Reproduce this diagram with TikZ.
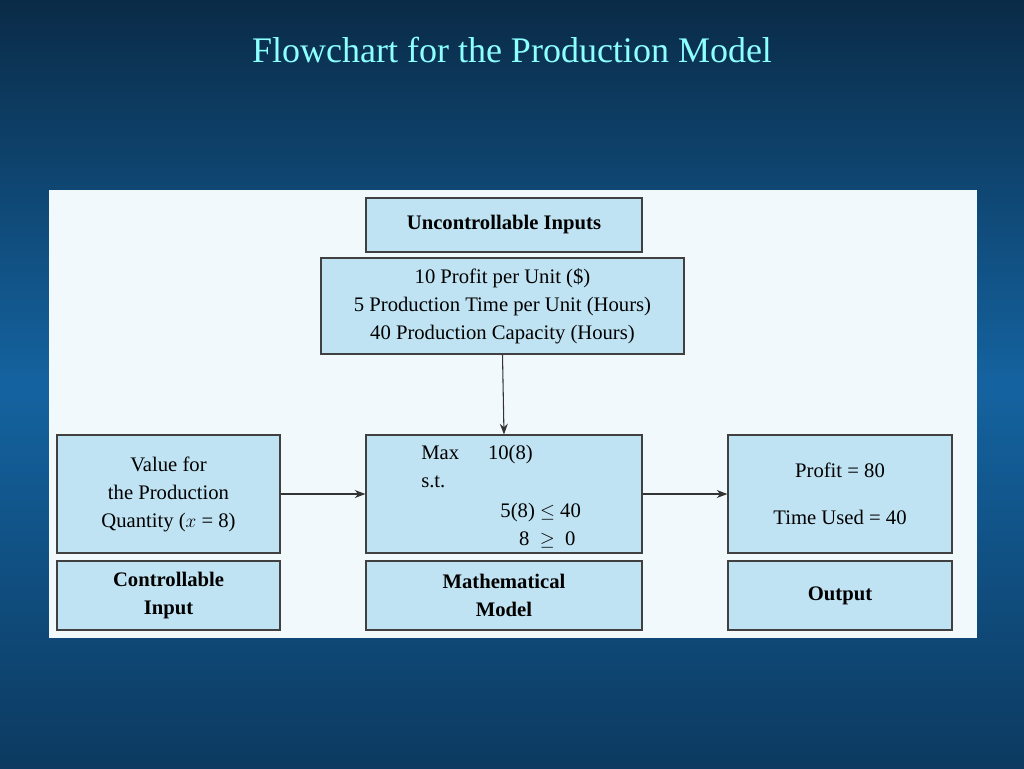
\documentclass[tikz,border=0pt]{standalone}
\usepackage{fontspec}
\setmainfont{Liberation Serif}
\newfontfamily\titlefont{TeX Gyre Heros}
\usetikzlibrary{arrows.meta}
\definecolor{bgtop}{HTML}{0A2B47}
\definecolor{bgmid}{HTML}{1463A0}
\definecolor{bgbot}{HTML}{0C3A60}
\definecolor{panel}{HTML}{F2F9FC}
\definecolor{boxfill}{HTML}{BFE3F3}
\definecolor{titlecol}{HTML}{8CFFFF}
\tikzset{
  box/.style={draw=black!75, line width=0.9pt, fill=boxfill, align=center,
    inner sep=0pt, font=\fontsize{15.5}{21}\selectfont},
  boldbox/.style={box, font=\fontsize{15.5}{21}\selectfont\bfseries},
  flow/.style={-{Stealth[length=8pt,width=6pt]}, line width=0.8pt, black!80}
}
\begin{document}
\begin{tikzpicture}[x=0.75pt,y=-0.75pt]
  \useasboundingbox (0,0) rectangle (1024,768);
  \shade[top color=bgtop, bottom color=bgbot, middle color=bgmid] (0,0) rectangle (1024,768);
  \node[text=titlecol, font=\fontsize{27}{32}\selectfont] (title) at (512,50) {\rmfamily Flowchart for the Production Model};
  \fill[panel] (49,190) rectangle (977,638);
  % inputs
  \node[boldbox, minimum width=276*0.75pt, minimum height=54*0.75pt] (unc) at (504,225) {Uncontrollable Inputs};
  \node[box, minimum width=363*0.75pt, minimum height=96*0.75pt] (vals) at (502.5,306)
    {10 Profit per Unit (\$)\\5 Production Time per Unit (Hours)\\40 Production Capacity (Hours)};
  % middle row
  \node[box, minimum width=223*0.75pt, minimum height=118*0.75pt] (xval) at (168.5,494)
    {Value for\\the Production\\Quantity ($x$ = 8)};
  \node[box, minimum width=276*0.75pt, minimum height=118*0.75pt] (model) at (504,494) {};
  \node[anchor=north west, inner sep=0pt, font=\fontsize{15.5}{21}\selectfont, align=left] (modeltext) at (421,440)
    {\begin{tabular}{@{}l@{\hspace{1.4em}}l@{}}
      Max & 10(8)\\
      s.t. & \\[1pt]
       & \hspace{0.6em}5(8) $\le$ 40\\
       & \hspace{1.5em}8 \ $\ge$ \ 0
     \end{tabular}};
  \node[box, minimum width=224*0.75pt, minimum height=118*0.75pt] (outv) at (840,494)
    {Profit = 80\\[14pt]Time Used = 40};
  % bottom labels
  \node[boldbox, minimum width=223*0.75pt, minimum height=69*0.75pt] (ctrl) at (168.5,595.5) {Controllable\\Input};
  \node[boldbox, minimum width=276*0.75pt, minimum height=69*0.75pt] (math) at (504,595.5) {Mathematical\\Model};
  \node[boldbox, minimum width=224*0.75pt, minimum height=69*0.75pt] (out) at (840,595.5) {Output};
  % arrows
  \draw[flow] (vals.south) -- (model.north);
  \draw[flow] (xval.east) -- (model.west);
  \draw[flow] (model.east) -- (outv.west);
\end{tikzpicture}
\end{document}
